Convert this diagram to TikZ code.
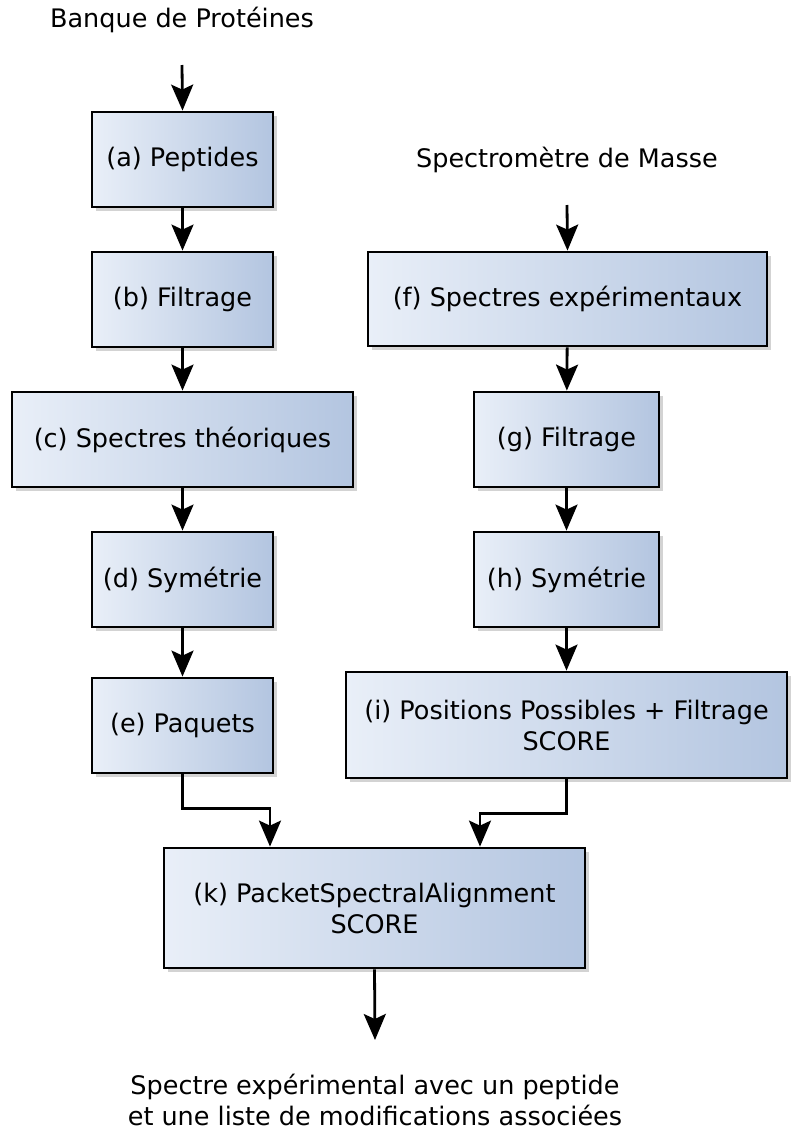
\documentclass[tikz,border=0pt]{standalone}
\usepackage{fontspec}
\setmainfont{DejaVu Sans}
\usetikzlibrary{arrows.meta,shadows,positioning}
\begin{document}
\begin{tikzpicture}[x=1pt,y=-1pt,
  every node/.style={font=\fontsize{25.5}{31}\selectfont},
  stepbox/.style={draw=black, line width=2.8pt, rectangle, align=center,
    drop shadow={opacity=0.35, shadow xshift=4pt, shadow yshift=-4pt},
    inner sep=0pt},
  lbl/.style={align=center},
  arr/.style={line width=2.8pt, -{Stealth[length=26pt,width=22pt,inset=5pt]}}
]
\useasboundingbox (0,0) rectangle (790,1130);
\definecolor{boxl}{HTML}{E9EFF8}
\definecolor{boxr}{HTML}{B3C5E0}
\tikzset{stepbox/.append style={left color=boxl, right color=boxr}}

\node[lbl] (bank) at (182,20) {Banque de Protéines};
\node[lbl] (spec) at (567,160) {Spectromètre de Masse};
\node[lbl] (out) at (375,1100) {Spectre expérimental avec un peptide\\et une liste de modifications associées};

\node[stepbox, minimum width=181, minimum height=95] (a) at (182.5,159.5) {(a) Peptides};
\node[stepbox, minimum width=181, minimum height=95] (b) at (182.5,299.5) {(b) Filtrage};
\node[stepbox, minimum width=341, minimum height=95] (c) at (182.5,439.5) {(c) Spectres théoriques};
\node[stepbox, minimum width=181, minimum height=95] (d) at (182.5,579.5) {(d) Symétrie};
\node[stepbox, minimum width=181, minimum height=95] (e) at (182.5,725.5) {(e) Paquets};

\node[stepbox, minimum width=399, minimum height=94] (f) at (567.5,299) {(f) Spectres expérimentaux};
\node[stepbox, minimum width=185, minimum height=95] (g) at (566.5,439.5) {(g) Filtrage};
\node[stepbox, minimum width=185, minimum height=95] (h) at (566.5,579.5) {(h) Symétrie};
\node[stepbox, minimum width=441, minimum height=106] (i) at (566.5,725) {(i) Positions Possibles + Filtrage\\SCORE};
\node[stepbox, minimum width=421, minimum height=120] (k) at (374.5,908) {(k) PacketSpectralAlignment\\SCORE};

\coordinate (bankend) at (182,65);
\coordinate (specend) at (567,205);
\coordinate (outend) at (375,1040);

\draw[arr] (bankend) -- (a.north);
\draw[arr] (a) -- (b);
\draw[arr] (b) -- (c);
\draw[arr] (c) -- (d);
\draw[arr] (d) -- (e);
\draw[arr] (specend) -- (f.north);
\draw[arr] (f) -- (g);
\draw[arr] (g) -- (h);
\draw[arr] (h) -- (h.south |- i.north);
\draw[arr] (e.south) -- ++(0,34) -| ([xshift=-104.5pt]k.north);
\draw[arr] (i.south) -- ++(0,34) -| ([xshift=105.5pt]k.north);
\draw[arr] (k.south) -- (outend);
\end{tikzpicture}
\end{document}
